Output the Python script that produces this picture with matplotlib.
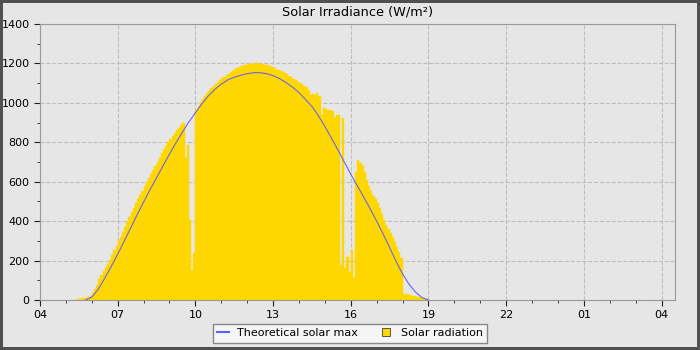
import numpy as np
import matplotlib
matplotlib.use("Agg")
from matplotlib import pyplot as plt
from matplotlib.lines import Line2D
from matplotlib.ticker import FixedLocator, MultipleLocator, FuncFormatter

# measured radiation, 5 minute bins starting 05:25 (hours of day)
rad_start = 5 + 25 / 60
rad_step = 5 / 60
radiation = [
    3, 5, 8, 10, 12, 15, 22,                                   # 05:25 - 05:55
    38, 58, 78, 105, 125, 145, 165, 185, 205, 228, 252, 276,   # 06
    300, 322, 345, 370, 395, 420, 445, 468, 490, 512, 534, 555,  # 07
    576, 597, 618, 638, 660, 680, 700, 720, 745, 765, 782, 800,  # 08
    815, 830, 845, 860, 875, 888, 900, 720, 785, 405, 150, 240,  # 09
    965, 985, 1005, 1022, 1037, 1050, 1062, 1074, 1086, 1096, 1106, 1116,  # 10
    1124, 1132, 1140, 1148, 1155, 1162, 1170, 1176, 1182, 1186, 1190, 1192,  # 11
    1195, 1197, 1199, 1200, 1200, 1199, 1198, 1196, 1194, 1190, 1186, 1182,  # 12
    1178, 1174, 1168, 1162, 1156, 1150, 1145, 1138, 1130, 1122, 1116, 1108,  # 13
    1100, 1094, 1086, 1080, 1060, 1040, 1045, 1042, 1048, 1035, 940, 975,    # 14
    970, 965, 962, 960, 922, 938, 938, 177, 921, 162, 220, 144,  # 15
    254, 110, 650, 712, 695, 682, 650, 610, 576, 555, 530, 510,  # 16
    490, 465, 435, 408, 382, 358, 338, 318, 295, 268, 245, 215,  # 17
    32, 30, 28, 26, 22, 20, 17, 14, 12, 10, 8, 5,                # 18
]

# theoretical clear-sky maximum, every 15 minutes from 05:45
max_start = 5.75
max_step = 0.25
theoretical = [
    0, 15, 55, 110, 170, 232, 298, 365, 432, 497, 560, 620, 680,
    740, 797, 852, 903, 950, 995, 1035, 1068, 1095, 1116, 1130,
    1140, 1148, 1153, 1153, 1148, 1138, 1123, 1103, 1080, 1052,
    1018, 982, 935, 880, 822, 762, 700, 638, 580, 522, 462, 400,
    335, 266, 196, 132, 80, 40, 12, 0,
]

# x ticks every 3 hours from 04:00 to 04:00 next day
hour_ticks = np.arange(4, 29, 3)

t_rad = rad_start + rad_step * np.arange(len(radiation))
t_max = max_start + max_step * np.arange(len(theoretical))

bg = "#e6e6e6"
fig = plt.figure(figsize=(7, 3.5), dpi=100, facecolor=bg)
fig.patch.set_edgecolor("#505050")
fig.patch.set_linewidth(3)
ax = fig.add_axes([40 / 700, 50 / 350, 635 / 700, 276 / 350], facecolor=bg)

ax.bar(t_rad, radiation, width=rad_step, align="edge", color="#ffd700",
       edgecolor="#ffd700", linewidth=0.3, zorder=2)
ax.plot(t_max, theoretical, color="#5f5fff", linewidth=0.75, zorder=3)

ax.set_xlim(4, 28.52)
ax.set_ylim(0, 1400)
ax.xaxis.set_major_locator(FixedLocator(hour_ticks))
ax.xaxis.set_minor_locator(MultipleLocator(1))
ax.xaxis.set_major_formatter(FuncFormatter(lambda h, _: f"{int(round(h)) % 24:02d}"))
ax.yaxis.set_major_locator(MultipleLocator(200))
ax.yaxis.set_minor_locator(MultipleLocator(100))
ax.tick_params(which="both", direction="out", color="#222222", labelsize=8)
ax.tick_params(which="major", length=4)
ax.tick_params(which="minor", length=2.5)
for s in ax.spines.values():
    s.set_color("#999999")

ax.set_axisbelow(True)
ax.grid(True, which="major", linestyle="--", color="#bdbdbd", linewidth=0.8)

ax.set_title("Solar Irradiance (W/m²)", fontsize=9.3, pad=6)

handles = [
    Line2D([], [], color="#5f5fff", linewidth=1.5),
    Line2D([], [], marker="s", linestyle="none", markersize=6,
           markerfacecolor="#ffd700", markeredgecolor="#404040", markeredgewidth=0.6),
]
leg = fig.legend(handles, ["Theoretical solar max", "Solar radiation"],
                 loc="lower center", bbox_to_anchor=(0.5, 0.005), ncol=2,
                 fontsize=8, frameon=True, fancybox=False, handlelength=1.0,
                 columnspacing=2.0, borderpad=0.4, handletextpad=0.8)
leg.get_frame().set_facecolor("#f5f5f5")
leg.get_frame().set_edgecolor("#888888")
leg.get_frame().set_alpha(1)

fig.savefig("out.png", dpi=100, facecolor=fig.get_facecolor(), edgecolor=fig.get_edgecolor())
